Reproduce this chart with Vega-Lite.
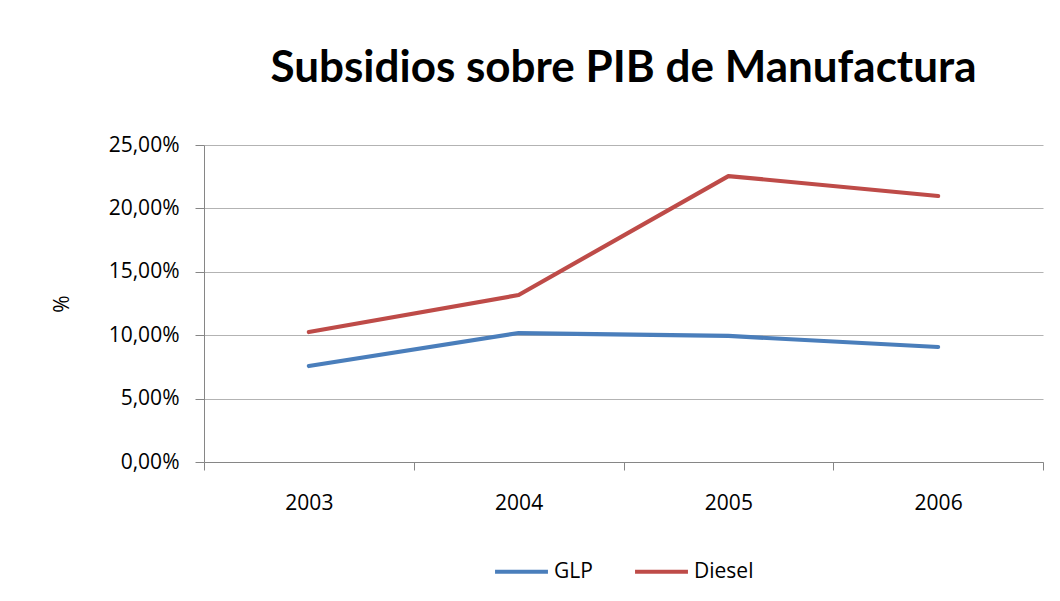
{
  "$schema": "https://vega.github.io/schema/vega-lite/v6.json",
  "autosize": {"type": "none"},
  "width": 839,
  "height": 317,
  "padding": {"left": 204, "top": 145, "right": 17, "bottom": 139},
  "background": "white",
  "title": {
    "text": "Subsidios sobre PIB de  Manufactura",
    "anchor": "middle",
    "font": "Lato",
    "fontSize": 44,
    "fontWeight": "bold",
    "color": "#000000",
    "offset": 43
  },
  "data": {
    "values": [
      {"year": "2003", "serie": "GLP", "value": 0.0757},
      {"year": "2004", "serie": "GLP", "value": 0.1017},
      {"year": "2005", "serie": "GLP", "value": 0.0994},
      {"year": "2006", "serie": "GLP", "value": 0.0907},
      {"year": "2003", "serie": "Diesel", "value": 0.1025},
      {"year": "2004", "serie": "Diesel", "value": 0.1317},
      {"year": "2005", "serie": "Diesel", "value": 0.2255},
      {"year": "2006", "serie": "Diesel", "value": 0.2098}
    ]
  },
  "mark": {"type": "line", "strokeWidth": 4.2, "strokeCap": "round", "strokeJoin": "round"},
  "encoding": {
    "x": {
      "field": "year",
      "type": "ordinal",
      "scale": {"type": "band", "paddingInner": 0, "paddingOuter": 0},
      "axis": {
        "title": null,
        "labelAngle": 0,
        "labelFont": "Open Sans",
        "labelFontSize": 21,
        "labelColor": "#000000",
        "labelPadding": 22,
        "tickBand": "extent",
        "tickSize": 8,
        "tickColor": "#868686",
        "domainColor": "#868686",
        "grid": false
      }
    },
    "y": {
      "field": "value",
      "type": "quantitative",
      "scale": {"domain": [0, 0.25], "nice": false},
      "axis": {
        "title": "%",
        "titleFont": "Open Sans",
        "titleFontSize": 21,
        "titleFontWeight": "normal",
        "titleColor": "#000000",
        "titlePadding": 36,
        "values": [0, 0.05, 0.1, 0.15, 0.2, 0.25],
        "format": ".2%",
        "labelFont": "Open Sans",
        "labelFontSize": 21,
        "labelColor": "#000000",
        "labelPadding": 16,
        "tickSize": 9,
        "tickColor": "#868686",
        "domainColor": "#868686",
        "grid": true,
        "gridColor": "#b3b3b3",
        "gridWidth": 1.2
      }
    },
    "color": {
      "field": "serie",
      "type": "nominal",
      "scale": {"domain": ["GLP", "Diesel"], "range": ["#4a7ebb", "#be4b48"]},
      "legend": {
        "title": null,
        "orient": "bottom",
        "direction": "horizontal",
        "symbolType": "stroke",
        "symbolSize": 2800,
        "symbolStrokeWidth": 4,
        "labelFont": "Open Sans",
        "labelFontSize": 21,
        "labelColor": "#000000",
        "labelOffset": 4,
        "columnPadding": 34,
        "offset": 30
      }
    }
  },
  "config": {
    "view": {"stroke": null},
    "legend": {"layout": {"bottom": {"anchor": "middle"}}},
    "locale": {
      "number": {"decimal": ",", "thousands": ".", "grouping": [3], "currency": ["", " €"]}
    }
  }
}
